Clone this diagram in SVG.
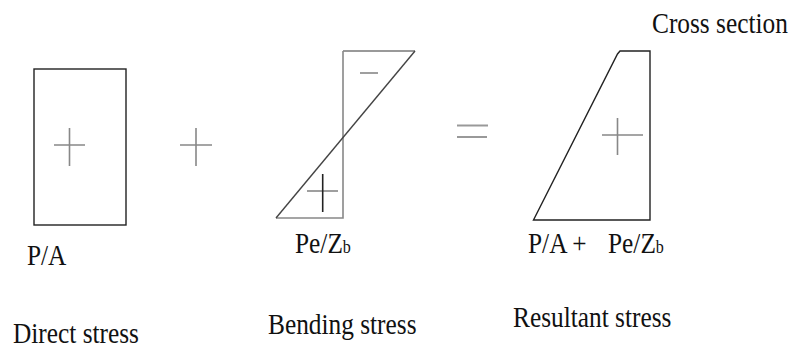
<svg xmlns="http://www.w3.org/2000/svg" width="793" height="351" viewBox="0 0 793 351">
<style>
text{font-family:"Liberation Serif","Times New Roman",serif;font-size:30px;fill:#111}
.sub{font-size:19px}
.sign{stroke:#888;stroke-width:1.6;fill:none}
.dark{stroke:#222;stroke-width:1.4;fill:none}
.grey{stroke:#999;stroke-width:2;fill:none}
</style>
<rect width="793" height="351" fill="#fff"/>
<g id="direct">
<rect x="34" y="69" width="92" height="156" class="dark"/>
<path d="M54 145H85M69.5 128V166" class="sign"/>
<g transform="scale(0.845 1)">
<text x="31.95" y="265">P/A</text>
<text x="15.38" y="343">Direct stress</text>
</g>
</g>
<g id="plus-op">
<path d="M180 145H212M196 128V166" class="sign"/>
</g>
<g id="bending">
<path d="M343 51H415" class="grey"/>
<path d="M343 51V218H276" stroke="#888" stroke-width="1.6" fill="none"/>
<path d="M276 218L415 51" stroke="#444" stroke-width="1.4" fill="none"/>
<path d="M360 73H378" class="sign" stroke-width="2"/>
<path d="M307 191H338" class="sign"/>
<path d="M322.7 174V212" stroke="#222" stroke-width="1.6"/>
<g transform="scale(0.845 1)">
<text x="349.11" y="253">Pe/Z<tspan class="sub">b</tspan></text>
<text x="317.16" y="334">Bending stress</text>
</g>
</g>
<g id="equals">
<path d="M457 125.5H488M457 137H487" class="grey" stroke-width="2.2"/>
</g>
<g id="resultant">
<path d="M620 51H650V220H533.5L617.5 54Z" class="dark"/>
<path d="M602 135H643M617.5 118V155" class="sign"/>
<g transform="scale(0.845 1)">
<text x="624.85" y="253">P/A +</text>
<text x="719.53" y="253">Pe/Z<tspan class="sub">b</tspan></text>
<text x="607.10" y="327">Resultant stress</text>
</g>
</g>
<g id="cross-section-label">
<g transform="scale(0.845 1)">
<text x="771.60" y="33">Cross section</text>
</g>
</g>
<g id="connectors"/>
</svg>
